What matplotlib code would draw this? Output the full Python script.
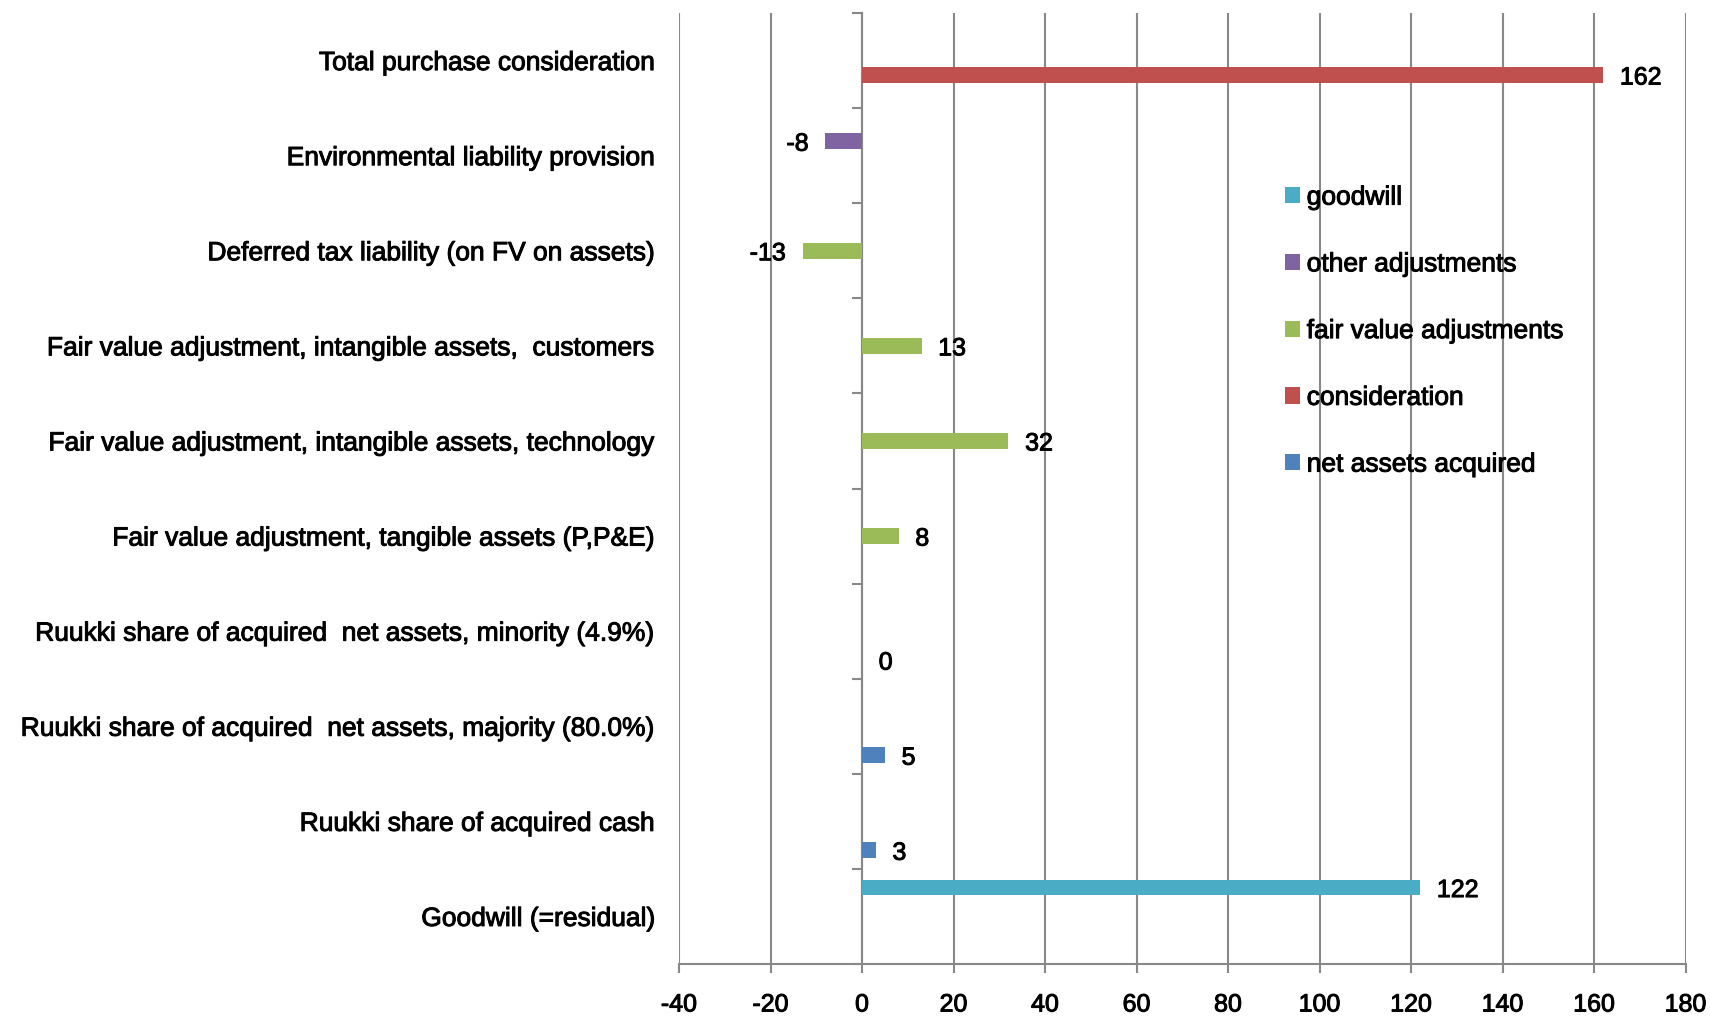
import numpy as np
import matplotlib
matplotlib.use("Agg")
import matplotlib.pyplot as plt
import matplotlib.patheffects as pe

# ------------------------------
# data
# ------------------------------
categories = [
    "Total purchase consideration",
    "Environmental liability provision",
    "Deferred tax liability (on FV on assets)",
    "Fair value adjustment, intangible assets,  customers",
    "Fair value adjustment, intangible assets, technology",
    "Fair value adjustment, tangible assets (P,P&E)",
    "Ruukki share of acquired  net assets, minority (4.9%)",
    "Ruukki share of acquired  net assets, majority (80.0%)",
    "Ruukki share of acquired cash",
    "Goodwill (=residual)",
]
nan = np.nan
goodwill = [nan, nan, nan, nan, nan, nan, nan, nan, nan, 122]
other_adjustments = [nan, -8, nan, nan, nan, nan, nan, nan, nan, nan]
fair_value_adjustments = [nan, nan, -13, 13, 32, 8, nan, nan, nan, nan]
consideration = [162, nan, nan, nan, nan, nan, nan, nan, nan, nan]
net_assets_acquired = [nan, nan, nan, nan, nan, nan, 0, 5, 3, nan]

series_names = ["goodwill", "other adjustments", "fair value adjustments",
                "consideration", "net assets acquired"]
series_values = [goodwill, other_adjustments, fair_value_adjustments,
                 consideration, net_assets_acquired]
colors = ["#4BACC6", "#8064A2", "#9BBB59", "#C0504D", "#4F81BD"]

x_ticks = list(range(-40, 181, 20))

# ------------------------------
# style
# ------------------------------
plt.rcParams.update({
    "font.family": ["Liberation Sans", "DejaVu Sans"],
    "font.size": 18,
})
grid_color = "#888888"
# slightly heavier glyphs
heavy = [pe.withStroke(linewidth=0.7, foreground="black")]

fig = plt.figure(figsize=(17.1, 10.17), dpi=100)
ax = fig.add_axes([0.3971, 0.0521, 0.5886, 0.9351])

y = np.arange(len(categories))
step = 0.152
bar_h = 0.165
offsets = (np.arange(len(series_names)) - 2) * step

for name, vals, col, off in zip(series_names, series_values, colors, offsets):
    vals = np.array(vals, dtype=float)
    ax.barh(y + off, vals, height=bar_h, color=col, label=name, zorder=3)
    for yi, v in zip(y, vals):
        if np.isnan(v):
            continue
        ax.annotate(f"{v:g}", xy=(v, yi + off),
                    xytext=(12 if v >= 0 else -12, 0), textcoords="offset points",
                    ha="left" if v >= 0 else "right", va="center_baseline",
                    fontsize=18, zorder=4, path_effects=heavy)

# category labels sit left of the plot area
for yi, cat in zip(y, categories):
    ax.annotate(cat, xy=(0, yi), xycoords=("axes fraction", "data"),
                xytext=(-17, 0), textcoords="offset points",
                ha="right", va="center_baseline", fontsize=19,
                path_effects=heavy)

ax.set_xlim(-40, 180)
ax.set_ylim(len(categories) - 0.5, -0.5)
ax.set_xticks(x_ticks)
ax.set_xticklabels([str(t) for t in x_ticks])
ax.grid(axis="x", color=grid_color, linewidth=1.5, zorder=1)
ax.grid(axis="y", visible=False)

# vertical axis crosses at zero, ticks on category boundaries
ax.spines["left"].set_position(("data", 0))
ax.spines["left"].set_color(grid_color)
ax.spines["left"].set_linewidth(1.5)
ax.spines["left"].set_zorder(2)
ax.set_yticks(np.arange(-0.5, len(categories), 1.0))
ax.set_yticklabels([])
ax.tick_params(axis="y", direction="out", length=7.5, width=1.5, color=grid_color)

ax.spines["bottom"].set_color(grid_color)
ax.spines["bottom"].set_linewidth(1.5)
ax.spines["top"].set_visible(False)
ax.spines["right"].set_visible(False)
ax.tick_params(axis="x", direction="out", length=6.5, width=1.5, color=grid_color,
               pad=14, labelsize=18)
for lbl in ax.get_xticklabels():
    lbl.set_path_effects(heavy)

leg = ax.legend(loc="upper left", bbox_to_anchor=(0.7515, 0.8175),
                bbox_transform=fig.transFigure, frameon=False, fontsize=19,
                handlelength=0.57, handleheight=0.57, handletextpad=0.25,
                labelspacing=1.62, borderpad=0, borderaxespad=0)
for txt in leg.get_texts():
    txt.set_path_effects(heavy)

fig.savefig("out.png", dpi=100)
